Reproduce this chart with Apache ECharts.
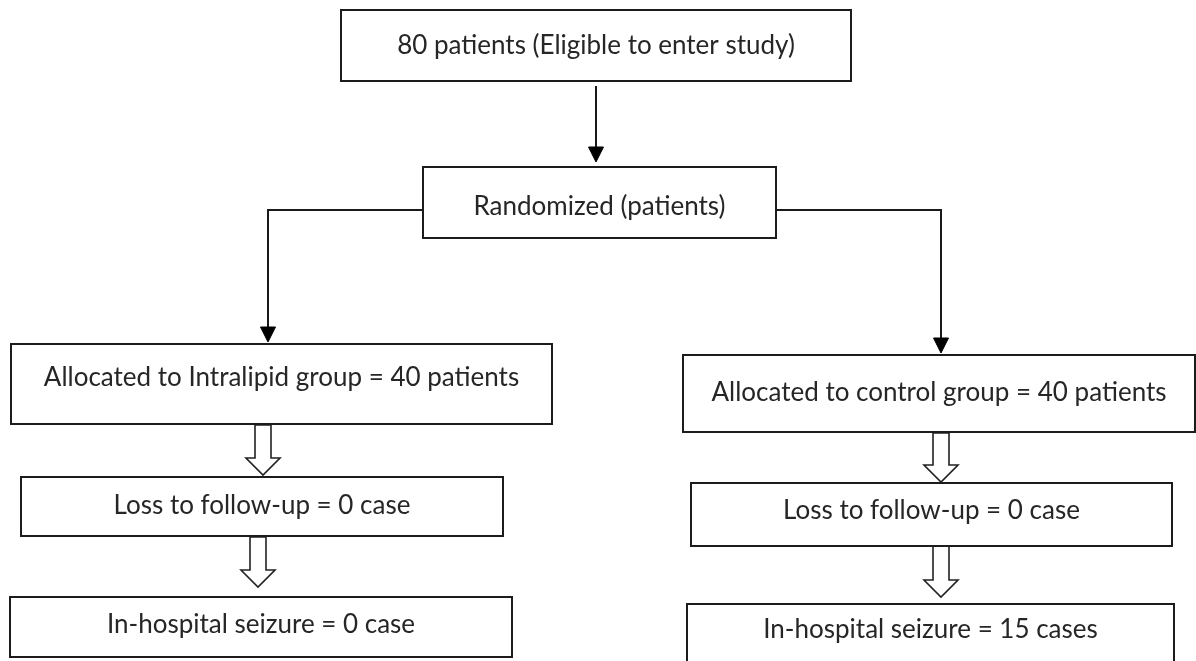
<!DOCTYPE html>
<html>
<head>
<meta charset="utf-8">
<script src="https://cdn.jsdelivr.net/npm/echarts@6/dist/echarts.min.js"></script>
<style>
html,body{margin:0;padding:0;background:#ffffff;}
#chart{width:1196px;height:661px;}
</style>
</head>
<body>
<div id="chart"></div>
<script>
// ---- Diagram data (units of the hidden value axes) ----
const boxLabels = [
  '80 patients (Eligible to enter study)',
  'Randomized (patients)',
  'Allocated to Intralipid group = 40 patients',
  'Allocated to control group = 40 patients',
  'Loss to follow-up = 0 case',
  'In-hospital seizure = 0 case',
  'Loss to follow-up = 0 case',
  'In-hospital seizure = 15 cases'
];
const boxLeft   = [341, 423, 11, 683, 21, 10, 691, 687];
const boxRight  = [851, 776, 552, 1195, 503, 512, 1172, 1174];
const boxTop    = [10, 167, 344, 355, 477, 597, 483, 604];
const boxBottom = [81, 238, 424, 432, 536, 657, 546, 680];
const labelY    = [46, 207, 378, 393, 506, 625, 511, 630];

const connectorPaths = [
  [[596, 86], [596, 162]],
  [[423, 210], [268, 210], [268, 342]],
  [[776, 210], [941, 210], [941, 353]]
];

const blockArrowX   = [263, 258, 941, 941];
const blockArrowTop = [425, 537, 433, 546];
const blockArrowTip = [475, 587, 482, 597];

// ---- Chart ----
const chart = echarts.init(document.getElementById('chart'), null, {renderer: 'canvas'});
const FONT = 'Lato, "Noto Sans", sans-serif';

const boxData = boxLabels.map((t, i) => [boxLeft[i], boxTop[i], boxRight[i], boxBottom[i], labelY[i]]);
const connData = connectorPaths.map((p, i) => [i]);
const blockData = blockArrowX.map((x, i) => [x, blockArrowTop[i], blockArrowTip[i]]);

const option = {
  backgroundColor: '#ffffff',
  animation: false,
  grid: {left: 0, right: 0, top: 0, bottom: 0},
  xAxis: {type: 'value', min: 0, max: 1196, show: false},
  yAxis: {type: 'value', min: 0, max: 661, inverse: true, show: false},
  series: [
    {
      type: 'custom',
      name: 'connectors',
      clip: false,
      data: connData,
      renderItem: function (params, api) {
        const pts = connectorPaths[api.value(0)].map(p => api.coord(p));
        const n = pts.length;
        const tip = pts[n - 1];
        const prev = pts[n - 2];
        const dx = tip[0] - prev[0], dy = tip[1] - prev[1];
        const len = Math.sqrt(dx * dx + dy * dy);
        const ux = dx / len, uy = dy / len;
        const headLen = 15, headHalf = 7.5;
        const base = [tip[0] - ux * headLen, tip[1] - uy * headLen];
        const linePts = pts.slice(0, n - 1).concat([base]);
        return {
          type: 'group',
          children: [
            {type: 'polyline', shape: {points: linePts}, style: {stroke: '#1a1a1a', lineWidth: 2, fill: null}},
            {type: 'polygon', shape: {points: [
              tip,
              [base[0] - uy * headHalf, base[1] + ux * headHalf],
              [base[0] + uy * headHalf, base[1] - ux * headHalf]
            ]}, style: {fill: '#000000', stroke: '#000000', lineWidth: 1}}
          ]
        };
      }
    },
    {
      type: 'custom',
      name: 'blockArrows',
      clip: false,
      data: blockData,
      renderItem: function (params, api) {
        const top = api.coord([api.value(0), api.value(1)]);
        const tip = api.coord([api.value(0), api.value(2)]);
        const cx = top[0];
        const sh = 8, hh = 17, hl = 17;
        const hb = tip[1] - hl;
        return {
          type: 'polygon',
          shape: {points: [
            [cx - sh, top[1]], [cx + sh, top[1]], [cx + sh, hb], [cx + hh, hb],
            [cx, tip[1]], [cx - hh, hb], [cx - sh, hb]
          ]},
          style: {fill: '#ffffff', stroke: '#222222', lineWidth: 1.6}
        };
      }
    },
    {
      type: 'custom',
      name: 'boxes',
      clip: false,
      data: boxData,
      renderItem: function (params, api) {
        const p0 = api.coord([api.value(0), api.value(1)]);
        const p1 = api.coord([api.value(2), api.value(3)]);
        const ty = api.coord([0, api.value(4)])[1];
        return {
          type: 'group',
          children: [
            {type: 'rect', shape: {x: p0[0], y: p0[1], width: p1[0] - p0[0], height: p1[1] - p0[1]},
             style: {fill: '#ffffff', stroke: '#1c1c1c', lineWidth: 2}},
            {type: 'text', style: {x: (p0[0] + p1[0]) / 2, y: ty, text: boxLabels[params.dataIndex],
             align: 'center', verticalAlign: 'middle', fill: '#262626', fontSize: 26, fontFamily: FONT}}
          ]
        };
      }
    }
  ]
};
chart.setOption(option);
</script>
</body>
</html>
